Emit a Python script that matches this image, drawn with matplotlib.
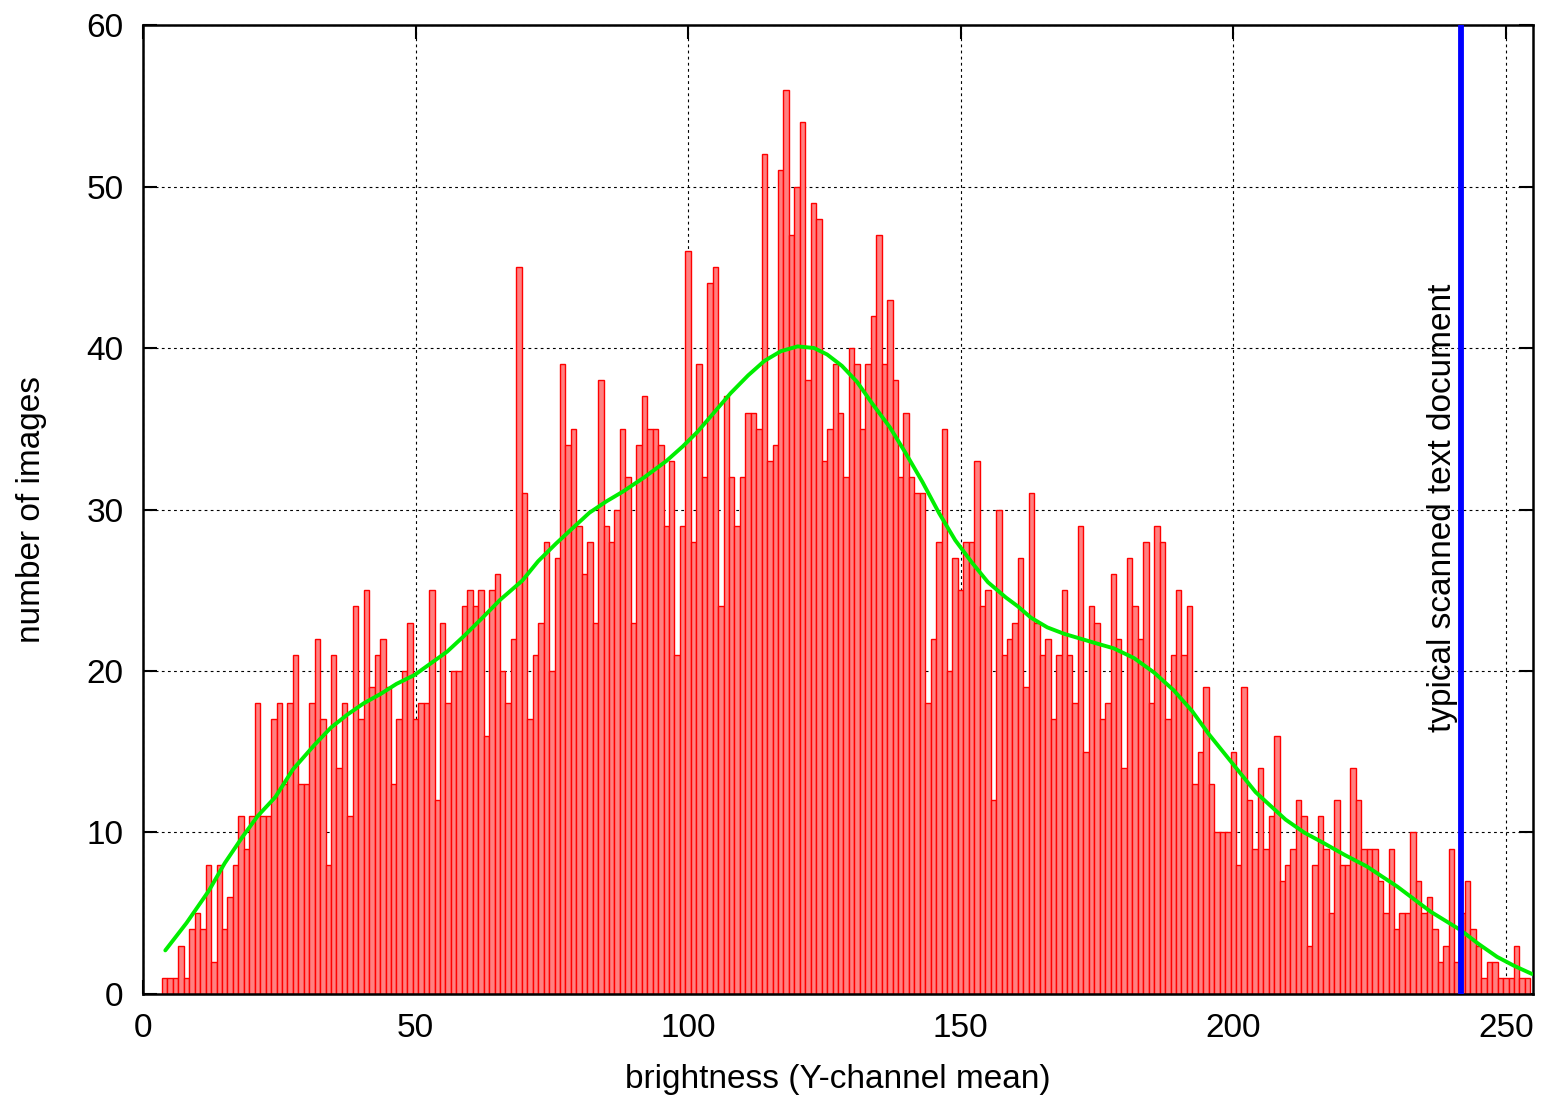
"""Histogram of image brightness (Y-channel mean) with a smoothed curve and a marker line."""

import matplotlib

matplotlib.use("Agg")
import matplotlib.pyplot as plt

plt.rcParams["font.family"] = ["Liberation Sans", "DejaVu Sans"]

# bins centred on integer brightness values, first non-empty bin = 4
FIRST_BIN = 4
COUNTS = [
    1, 1, 1, 3, 1, 4, 5, 4, 8, 2, 8, 4, 6, 8, 11, 9, 11,                      # 4..20
    18, 11, 11, 17, 18, 13, 18, 21, 13, 13, 18, 22, 17,                       # 21..33
    8, 21, 14, 18, 11, 24, 17, 25, 19, 21, 22, 19, 13, 17, 20, 23,            # 34..49
    17, 18, 18, 25, 12, 23, 18, 20, 20, 24, 25, 24, 25, 16, 25,               # 50..64
    26, 20, 18, 22, 45, 31, 17, 21, 23, 28, 20, 27, 39, 34, 35, 29,           # 65..80
    26, 28, 23, 38, 29, 28, 30, 35, 32, 23, 34, 37, 35, 35, 34, 29,           # 81..96
    33, 21, 29, 46, 28, 39, 32, 44, 45, 24, 37, 32, 29, 32, 36, 36,           # 97..112
    35, 52, 33, 34, 51, 56, 47, 50, 54, 38, 49, 48, 33, 35, 39, 36,           # 113..128
    32, 40, 39, 35, 39, 42, 47, 39, 43, 38, 32, 36, 32, 31, 31, 18,           # 129..144
    22, 28, 35, 20, 27, 25, 28, 28, 33, 24, 25, 12, 30, 21, 22, 23,           # 145..160
    27, 19, 31, 23, 21, 22, 17, 21, 25, 21, 18, 29, 15, 24, 23, 17,           # 161..176
    18, 26, 22, 14, 27, 24, 22, 28, 18, 29, 28, 17, 21, 25, 21, 24,           # 177..192
    13, 15, 19, 13, 10, 10, 10, 15, 8, 19, 12, 9, 14, 9, 11, 16,              # 193..208
    7, 8, 9, 12, 11, 3, 8, 11, 9, 5, 12, 8, 8, 14, 12, 9,                     # 209..224
    9, 9, 7, 5, 9, 4, 5, 5, 10, 7, 5, 6, 4, 2, 3, 9,                          # 225..240
    2, 5, 7, 4, 3, 1, 2, 2, 1, 1, 1, 3, 1, 1,                                 # 241..254
]
BRIGHTNESS = list(range(FIRST_BIN, FIRST_BIN + len(COUNTS)))

# smoothed density curve
CURVE_X = [4.1, 8.0, 12.1, 15.0, 18.2, 21.0, 24.3, 27.5, 31.4, 34.5, 37.5, 40.5,
           43.7, 46.5, 49.8, 52.5, 55.8, 59.0, 62.0, 65.5, 69.6, 72.5, 75.8,
           79.0, 81.9, 85.0, 88.0, 92.0, 96.0, 99.0, 101.7, 104.5, 107.8,
           111.0, 114.0, 117.0, 120.1, 123.1, 125.5, 128.2, 131.0, 133.8,
           137.0, 139.9, 143.0, 146.0, 149.0, 152.1, 155.0, 158.3, 160.5,
           162.9, 165.9, 169.0, 172.0, 175.0, 178.1, 181.8, 185.5, 189.1,
           192.5, 195.5, 199.8, 204.1, 209.6, 213.0, 216.3, 220.5, 224.5,
           230.1, 236.2, 241.7, 245.0, 248.4, 251.5, 254.8]
CURVE_Y = [2.7, 4.4, 6.4, 8.1, 9.7, 11.0, 12.2, 13.9, 15.4, 16.5, 17.3, 18.0,
           18.6, 19.2, 19.75, 20.4, 21.2, 22.2, 23.2, 24.4, 25.6, 26.8, 27.9,
           28.9, 29.8, 30.5, 31.1, 32.0, 33.0, 33.9, 34.8, 35.9, 37.2,
           38.3, 39.2, 39.8, 40.1, 40.0, 39.6, 38.9, 37.9, 36.55,
           35.1, 33.5, 31.7, 29.8, 28.1, 26.7, 25.5, 24.55, 24.0,
           23.3, 22.7, 22.3, 22.0, 21.7, 21.4, 20.8, 19.9, 18.8,
           17.5, 16.1, 14.3, 12.5, 10.8, 10.0, 9.4, 8.6, 7.9,
           6.65, 5.1, 3.96, 3.1, 2.3, 1.75, 1.24]

SCANNED_DOC = 241.7
SCANNED_LABEL = "typical scanned text document"


def main() -> None:
    fig = plt.figure(figsize=(15.42, 10.97), dpi=100)
    ax = fig.add_axes([0.0927, 0.0939, 0.9015, 0.8833])

    ax.bar(BRIGHTNESS, COUNTS, width=1.0, align="center",
           facecolor="#ff8080", edgecolor="#ff0000", linewidth=1.0, zorder=2)
    ax.plot(CURVE_X, CURVE_Y, color="#00ee00", linewidth=2.8, zorder=3,
            solid_capstyle="round", solid_joinstyle="round")
    ax.axvline(SCANNED_DOC, color="#0000ff", linewidth=4.2, zorder=4)
    ax.text(SCANNED_DOC - 3.4, 16.2, SCANNED_LABEL, rotation=90,
            ha="center", va="bottom", fontsize=24, zorder=5)

    ax.set_xlim(0, 255)
    ax.set_ylim(0, 60)
    ax.set_xticks(range(0, 251, 50))
    ax.set_yticks(range(0, 61, 10))
    ax.grid(True, color="black", linestyle=(0, (2.5, 3)), linewidth=0.8)
    ax.set_axisbelow(True)
    ax.tick_params(direction="in", length=10, width=1.5, top=True, right=True,
                   labelsize=24, pad=14)
    for sp in ax.spines.values():
        sp.set_linewidth(1.8)

    ax.set_xlabel("brightness (Y-channel mean)", fontsize=24, labelpad=14)
    ax.set_ylabel("number of images", fontsize=24, labelpad=28)

    fig.savefig("out.png", dpi=100)
    plt.close(fig)


if __name__ == "__main__":
    main()
